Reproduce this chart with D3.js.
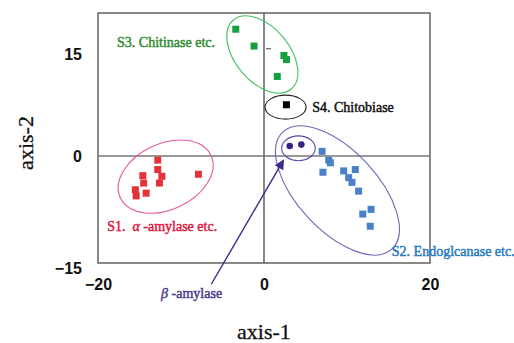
<!DOCTYPE html>
<html>
<head>
<meta charset="utf-8">
<script src="https://cdn.jsdelivr.net/npm/d3@7"></script>
<style>
  body { margin: 0; background: #fff; }
  svg { display: block; }
</style>
</head>
<body>
<svg id="chart" width="514" height="343"></svg>
<script>
// scores (axis-1, axis-2)
const s1Points = [[-12.8, -0.6], [-12.8, -2.0], [-14.6, -2.9], [-12.3, -3.0], [-14.5, -4.0],
    [-12.6, -4.0], [-15.5, -5.0], [-14.2, -5.5], [-15.4, -5.9], [-7.9, -2.7]];
const s2Points = [[7.0, 0.7], [7.8, -0.6], [8.0, -1.0], [7.1, -2.4], [9.6, -2.2], [11.0, -2.0],
    [10.2, -3.2], [10.6, -3.9], [11.4, -5.2], [11.9, -8.6], [12.9, -7.9], [12.8, -10.4]];
const s3Points = [[-3.4, 18.8], [-1.2, 16.3], [2.4, 14.9], [2.7, 14.3], [1.6, 11.8]];
const s4Points = [[2.7, 7.6]];
const betaPoints = [[3.1, 1.5], [4.5, 1.7]];
const xTicks = [-20, 0, 20];
const yTicks = [15, 0, -15];

const svg = d3.select("#chart");
const x = d3.scaleLinear().domain([-20, 20]).range([98, 430]);
const y = d3.scaleLinear().domain([-15.85, 21.2]).range([263, 13]);

// group outlines: centre in data units, radii in px, tilt in degrees
const rings = [
    { cx: -11.85, cy: -3.05, rx: 50, ry: 33, rot: -25, color: "#e8559c" },
    { cx: 8.85, cy: -5.1, rx: 80, ry: 40, rot: 47, color: "#6f66b8" },
    { cx: -0.2, cy: 15.05, rx: 45, ry: 27, rot: 50, color: "#42bf60" },
    { cx: 2.6, cy: 7.25, rx: 20.5, ry: 12, rot: 0, color: "#222" },
    { cx: 4.15, cy: 1.15, rx: 16.8, ry: 12.4, rot: 0, color: "#5a4aa8" }
];

// frame and zero lines
svg.append("rect")
    .attr("x", x(-20)).attr("y", y.range()[1])
    .attr("width", x(20) - x(-20)).attr("height", y.range()[0] - y.range()[1])
    .attr("fill", "none").attr("stroke", "#4a4a4a").attr("stroke-width", 1.3);
svg.append("line")
    .attr("x1", x(0)).attr("x2", x(0)).attr("y1", y.range()[1]).attr("y2", y.range()[0])
    .attr("stroke", "#555").attr("stroke-width", 1.4);
svg.append("line")
    .attr("x1", x(-20)).attr("x2", x(20)).attr("y1", y(0)).attr("y2", y(0))
    .attr("stroke", "#777").attr("stroke-width", 1.6);
// little tick on the vertical axis
svg.append("line")
    .attr("x1", x(0) + 2).attr("x2", x(0) + 7).attr("y1", y(15.9)).attr("y2", y(15.9))
    .attr("stroke", "#444").attr("stroke-width", 1);

// axes (labels only)
const xAxis = svg.append("g")
    .attr("transform", `translate(0,${y.range()[0]})`)
    .call(d3.axisBottom(x).tickValues(xTicks).tickSize(0).tickPadding(24));
const yAxis = svg.append("g")
    .attr("transform", `translate(${x(-20)},0)`)
    .call(d3.axisLeft(y).tickValues(yTicks).tickSize(0).tickPadding(16));
[xAxis, yAxis].forEach(g => {
    g.select(".domain").remove();
    g.selectAll("text")
        .attr("font-family", "'Liberation Sans', Arial, sans-serif")
        .attr("font-weight", "bold").attr("font-size", 16).attr("fill", "#111");
});
xAxis.selectAll("text").attr("dy", "0.2em");
yAxis.selectAll("text").filter(d => d === -15).attr("dy", "1em");

// ellipses
svg.selectAll("ellipse.ring")
    .data(rings)
    .enter()
    .append("ellipse")
    .attr("class", "ring")
    .attr("transform", d => `translate(${x(d.cx)},${y(d.cy)}) rotate(${d.rot})`)
    .attr("rx", d => d.rx).attr("ry", d => d.ry)
    .attr("fill", "none").attr("stroke", d => d.color).attr("stroke-width", 1.1);

// arrow to beta-amylase
svg.append("defs").append("marker")
    .attr("id", "head").attr("viewBox", "0 0 10 10")
    .attr("refX", 9).attr("refY", 5)
    .attr("markerWidth", 10).attr("markerHeight", 10)
    .attr("markerUnits", "userSpaceOnUse")
    .attr("orient", "auto")
    .append("path").attr("d", "M0,0L10,5L0,10z").attr("fill", "#3b2b8c");
svg.append("line")
    .attr("x1", x(-6.35)).attr("y1", y(-19))
    .attr("x2", x(2.35)).attr("y2", y(-0.6))
    .attr("stroke", "#3b2b8c").attr("stroke-width", 1.4)
    .attr("marker-end", "url(#head)");

// squares
const squareSets = [
    { pts: s1Points, color: "#e3323a" },
    { pts: s2Points, color: "#4a80c8" },
    { pts: s3Points, color: "#13a03d" },
    { pts: s4Points, color: "#000" }
];
const sq = 7;
squareSets.forEach(set => {
    svg.append("g").selectAll("rect")
        .data(set.pts)
        .enter()
        .append("rect")
        .attr("x", d => x(d[0]) - sq / 2)
        .attr("y", d => y(d[1]) - sq / 2)
        .attr("width", sq).attr("height", sq)
        .attr("fill", set.color);
});
svg.append("g").selectAll("circle")
    .data(betaPoints)
    .enter()
    .append("circle")
    .attr("cx", d => x(d[0])).attr("cy", d => y(d[1]))
    .attr("r", 3.3).attr("fill", "#3a2283");

// group labels (serif, thickened with a thin stroke)
const serif = "'Liberation Serif', 'Times New Roman', serif";
function label(px, py, parts, color) {
    const t = svg.append("text")
        .attr("x", x(px)).attr("y", y(py)).attr("dy", "0.35em")
        .style("font-family", serif)
        .style("font-size", "14px").attr("fill", color)
        .attr("stroke", color).attr("stroke-width", 0.45);
    parts.forEach(p => {
        t.append("tspan").text(p[0]).style("font-style", p[1] ? "italic" : null);
    });
}
label(-17.7, 16.9, [["S3. Chitinase etc."]], "#2e8a2e");
label(5.8, 7.3, [["S4. Chitobiase"]], "#111");
label(-18.9, -10.45, [["S1.\u00a0 "], ["\u03b1", true], [" -amylase etc."]], "#e0143c");
label(15.4, -14.15, [["S2. Endoglcanase etc."]], "#1f78c0");
label(-12.4, -20.3, [["\u03b2", true], [" -amylase"]], "#4a3a8c");

// axis titles
svg.append("text")
    .attr("x", x(0)).attr("y", 331).attr("dy", "0.35em")
    .attr("text-anchor", "middle")
    .style("font-family", serif).style("font-size", "22px").attr("fill", "#111")
    .attr("stroke", "#111").attr("stroke-width", 0.3)
    .text("axis-1");
svg.append("text")
    .attr("transform", "translate(25,143) rotate(-90)")
    .attr("dy", "0.35em")
    .attr("text-anchor", "middle")
    .style("font-family", serif).style("font-size", "22px").attr("fill", "#111")
    .attr("stroke", "#111").attr("stroke-width", 0.3)
    .text("axis-2");
</script>
</body>
</html>
